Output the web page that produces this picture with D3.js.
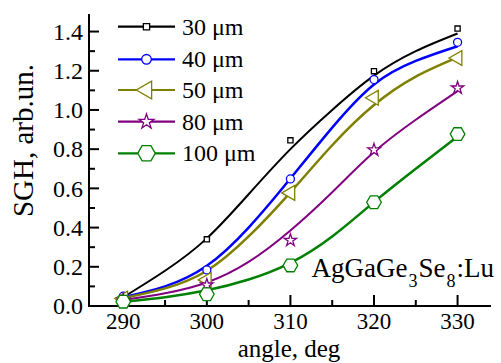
<!DOCTYPE html>
<html>
<head>
<meta charset="utf-8">
<script src="https://cdn.jsdelivr.net/npm/d3@7"></script>
<style>
  html, body { margin: 0; padding: 0; background: #fff; }
  svg { display: block; }
  text { font-family: "Liberation Serif", "Times New Roman", "DejaVu Serif", serif; fill: #000; }
</style>
</head>
<body>
<svg id="chart" width="501" height="363" font-family="Liberation Serif, Times New Roman, serif"></svg>
<script>
// Measured SGH points (angle in degrees)
const angles = [290, 300, 310, 320, 330];
const sgh30 = [0.035, 0.34, 0.845, 1.198, 1.415];
const sgh40 = [0.05, 0.184, 0.648, 1.155, 1.345];
const sgh50 = [0.038, 0.133, 0.577, 1.062, 1.265];
const sgh80 = [0.03, 0.107, 0.335, 0.796, 1.112];
const sgh100 = [0.022, 0.06, 0.207, 0.529, 0.877];

// Fitted curves sampled every 5 degrees
const fitAngles = [290, 295, 300, 305, 310, 315, 320, 325, 330];
const fit30 = [0.045, 0.18, 0.345, 0.57, 0.80, 1.00, 1.175, 1.30, 1.39];
const fit40 = [0.045, 0.10, 0.205, 0.40, 0.65, 0.91, 1.13, 1.25, 1.325];
const fit50 = [0.04, 0.09, 0.18, 0.355, 0.58, 0.82, 1.025, 1.17, 1.268];
const fit80 = [0.03, 0.065, 0.12, 0.225, 0.385, 0.58, 0.785, 0.95, 1.096];
const fit100 = [0.022, 0.045, 0.08, 0.135, 0.22, 0.355, 0.53, 0.70, 0.865];

const seriesNames = ["30 \u03bcm", "40 \u03bcm", "50 \u03bcm", "80 \u03bcm", "100 \u03bcm"];
const seriesColors = ["#000000", "#0000ff", "#808000", "#800080", "#008000"];
const seriesMarkers = ["square", "circle", "triangle", "star", "hexagon"];

const xTicks = [290, 300, 310, 320, 330];
const yTicks = [0.0, 0.2, 0.4, 0.6, 0.8, 1.0, 1.2, 1.4];

const series = [
  { name: seriesNames[0], color: seriesColors[0], marker: seriesMarkers[0], pts: sgh30, fit: fit30, lw: 2 },
  { name: seriesNames[1], color: seriesColors[1], marker: seriesMarkers[1], pts: sgh40, fit: fit40, lw: 2.5 },
  { name: seriesNames[2], color: seriesColors[2], marker: seriesMarkers[2], pts: sgh50, fit: fit50, lw: 2.5 },
  { name: seriesNames[3], color: seriesColors[3], marker: seriesMarkers[3], pts: sgh80, fit: fit80, lw: 2 },
  { name: seriesNames[4], color: seriesColors[4], marker: seriesMarkers[4], pts: sgh100, fit: fit100, lw: 2.5 }
];

const svg = d3.select("#chart");

const x = d3.scaleLinear().domain([285.9, 334]).range([89, 491]);
const y = d3.scaleLinear().domain([0, 1.49]).range([306, 13.9]);

// Marker path builders; k scales the marker
function hexPath(r) {
  const p = d3.path();
  for (let i = 0; i < 6; i++) {
    const a = i * Math.PI / 3;
    const px = r * Math.cos(a), py = r * Math.sin(a);
    if (i === 0) p.moveTo(px, py); else p.lineTo(px, py);
  }
  p.closePath();
  return p.toString();
}
function markerPath(kind, k) {
  switch (kind) {
    case "square": { const h = 2.6 * k; return `M${-h},${-h}H${h}V${h}H${-h}Z`; }
    case "circle": return d3.symbol(d3.symbolCircle, Math.PI * Math.pow(4 * k, 2))();
    case "triangle": return d3.symbol(d3.symbolTriangle, 95 * k * k)();
    case "star": return d3.symbol(d3.symbolStar, 48 * k * k)();
    case "hexagon": return hexPath(7.3 * k);
  }
}
function markerRotate(kind) { return kind === "triangle" ? " rotate(-90)" : ""; }

// Axes
const axisG = svg.append("g");
// y axis
axisG.append("line").attr("x1", 89).attr("x2", 89).attr("y1", y(0) + 1).attr("y2", y.range()[1])
  .attr("stroke", "#000").attr("stroke-width", 2);
d3.range(0, 15).forEach(i => {
  const v = i / 10;
  const major = i % 2 === 0;
  axisG.append("line").attr("x1", 89).attr("x2", 89 + (major ? 10 : 6))
    .attr("y1", y(v)).attr("y2", y(v)).attr("stroke", "#000").attr("stroke-width", 2);
});
axisG.selectAll("text.yt").data(yTicks).join("text").attr("class", "yt")
  .attr("x", 83).attr("y", d => y(d)).attr("dy", "0.34em").attr("text-anchor", "end")
  .attr("font-size", 24).text(d => d.toFixed(1));
// x axis
axisG.append("line").attr("x1", 88).attr("x2", x.range()[1]).attr("y1", 306).attr("y2", 306)
  .attr("stroke", "#000").attr("stroke-width", 2);
d3.range(290, 331, 5).forEach(v => {
  const major = v % 10 === 0;
  axisG.append("line").attr("x1", x(v)).attr("x2", x(v)).attr("y1", 306).attr("y2", 306 - (major ? 11 : 6))
    .attr("stroke", "#000").attr("stroke-width", 2);
});
axisG.selectAll("text.xt").data(xTicks).join("text").attr("class", "xt")
  .attr("x", d => x(d)).attr("y", 329).attr("text-anchor", "middle")
  .attr("font-size", 23).text(d => d);

// Axis titles
svg.append("text").attr("transform", "translate(33,140.5) rotate(-90)")
  .attr("text-anchor", "middle").attr("font-size", 29).text("SGH, arb.un.");
svg.append("text").attr("x", 289).attr("y", 357).attr("text-anchor", "middle")
  .attr("font-size", 25).text("angle, deg");

// Fitted curves
const line = d3.line().x((d, i) => x(fitAngles[i])).y(d => y(d)).curve(d3.curveNatural);
svg.append("g").selectAll("path").data(series).join("path")
  .attr("d", s => line(s.fit)).attr("fill", "none")
  .attr("stroke", s => s.color).attr("stroke-width", s => s.lw);

// Data markers
const mk = svg.append("g");
series.forEach(s => {
  mk.selectAll(null).data(s.pts).join("path")
    .attr("transform", (d, i) => `translate(${x(angles[i])},${y(d)})${markerRotate(s.marker)}`)
    .attr("d", markerPath(s.marker, 1))
    .attr("fill", "#fff").attr("stroke", s.color).attr("stroke-width", 1.3);
});

// Legend
const legendRows = [26.7, 59.3, 90, 121.7, 153.3];
const lg = svg.append("g");
series.forEach((s, i) => {
  const ry = legendRows[i];
  lg.append("line").attr("x1", 118).attr("x2", 175).attr("y1", ry).attr("y2", ry)
    .attr("stroke", s.color).attr("stroke-width", 2.2);
  lg.append("path").attr("transform", `translate(146.5,${ry})${markerRotate(s.marker)}`)
    .attr("d", markerPath(s.marker, 1.2))
    .attr("fill", "#fff").attr("stroke", s.color).attr("stroke-width", 1.3);
  lg.append("text").attr("x", 182).attr("y", ry).attr("dy", "0.34em")
    .attr("font-size", 24).text(s.name);
});

// Compound label
const comp = svg.append("text").attr("x", 311.5).attr("y", 277).attr("font-size", 27);
comp.append("tspan").text("AgGaGe");
comp.append("tspan").attr("font-size", 18).attr("dy", 10).attr("dx", 1).text("3");
comp.append("tspan").attr("dy", -10).attr("dx", 1).text("Se");
comp.append("tspan").attr("font-size", 18).attr("dy", 10).attr("dx", 1).text("8");
comp.append("tspan").attr("dy", -10).attr("dx", 1).text(":Lu");
</script>
</body>
</html>
